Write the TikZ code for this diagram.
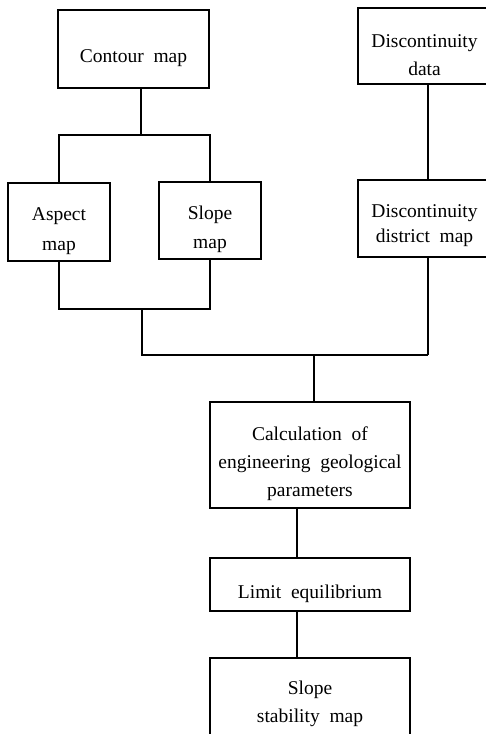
\documentclass[tikz,border=0pt]{standalone}
\usepackage{fontspec}
\setmainfont[WordSpace=2]{Liberation Serif}
\begin{document}
\begin{tikzpicture}[x=1pt,y=-1pt,
  box/.style={draw, line width=1.8pt, inner sep=0pt},
  lbl/.style={align=center, font=\fontsize{19.5}{28}\selectfont, yshift=-9pt, inner sep=0pt},
  conn/.style={line width=1.8pt}]
\useasboundingbox (0,0) rectangle (486,734);
\node[box, minimum width=151pt, minimum height=78pt,
  label={[lbl]center:{Contour map}}] (contour) at (133.5,49) {};
\node[box, minimum width=129pt, minimum height=76pt,
  label={[lbl, xshift=2pt]center:{Discontinuity\\data}}] (disc) at (422.5,46) {};
\node[box, minimum width=102pt, minimum height=78pt,
  label={[lbl]center:{Aspect\\[2pt]map}}] (aspect) at (59,222) {};
\node[box, minimum width=102pt, minimum height=77pt,
  label={[lbl]center:{Slope\\[1pt]map}}] (slope) at (210,220.5) {};
\node[box, minimum width=129pt, minimum height=77pt,
  label={[lbl, xshift=2pt, yshift=2pt]center:{Discontinuity\\[-3pt]district map}}] (district) at (422.5,218.5) {};
\node[box, minimum width=200pt, minimum height=106pt,
  label={[lbl]center:{Calculation of\\engineering geological\\parameters}}] (calc) at (310,455) {};
\node[box, minimum width=200pt, minimum height=53pt,
  label={[lbl]center:{Limit equilibrium}}] (limit) at (310,584.5) {};
\node[box, minimum width=200pt, minimum height=102pt,
  label={[lbl, yshift=14pt]center:{Slope\\stability map}}] (stab) at (310,709) {};
% junctions
\coordinate (j1) at (141,135);
\coordinate (j2) at (142,309);
\coordinate (j3) at (314,355);
\coordinate (j4) at (428,355);
\draw[conn] (contour.south -| j1) -- (j1);
\draw[conn] (aspect.north) |- (j1) -| (slope.north);
\draw[conn] (aspect.south) |- (j2) -| (slope.south);
\draw[conn] (j2) |- (j4);
\draw[conn] (district.south -| j4) -- (j4);
\draw[conn] (disc.south -| j4) -- (district.north -| j4);
\draw[conn] (j3) -- (calc.north -| j3);
\draw[conn] ([xshift=-13pt]calc.south) -- ([xshift=-13pt]limit.north);
\draw[conn] ([xshift=-13pt]limit.south) -- ([xshift=-13pt]stab.north);
\end{tikzpicture}
\end{document}
